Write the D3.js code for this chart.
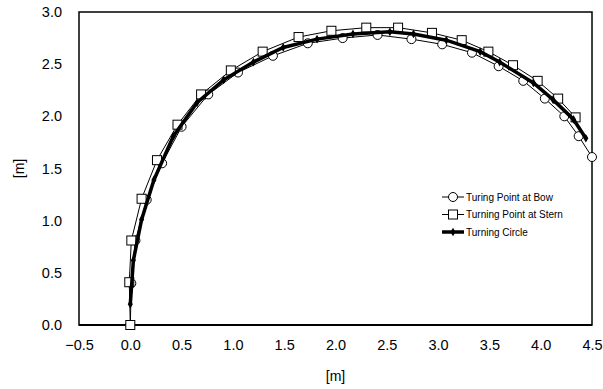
<!DOCTYPE html>
<html>
<head>
<meta charset="utf-8">
<script src="https://cdn.jsdelivr.net/npm/d3@7"></script>
<style>
  body { margin: 0; background: #fff; }
  text { font-family: "Liberation Sans", Arial, sans-serif; fill: #000; }
</style>
</head>
<body>
<script>
// tick values
var xTicks = [-0.5, 0, 0.5, 1, 1.5, 2, 2.5, 3, 3.5, 4, 4.5];
var yTicks = [0, 0.5, 1, 1.5, 2, 2.5, 3];

// series, [x, y] in metres
var bowPoints = [[0.00, 0.00], [0.01, 0.40], [0.05, 0.81], [0.16, 1.20], [0.31, 1.55], [0.50, 1.90],
  [0.76, 2.21], [1.05, 2.42], [1.39, 2.58], [1.73, 2.70], [2.07, 2.75], [2.41, 2.78],
  [2.74, 2.74], [3.04, 2.69], [3.33, 2.61], [3.59, 2.48], [3.83, 2.34], [4.04, 2.17],
  [4.23, 2.00], [4.37, 1.81], [4.50, 1.61]];
var sternPoints = [[0.00, 0.00], [-0.01, 0.41], [0.01, 0.81], [0.11, 1.21], [0.26, 1.58], [0.46, 1.92],
  [0.69, 2.21], [0.98, 2.44], [1.29, 2.62], [1.64, 2.76], [1.96, 2.82], [2.30, 2.85],
  [2.61, 2.85], [2.94, 2.80], [3.23, 2.73], [3.49, 2.62], [3.73, 2.49], [3.97, 2.34],
  [4.17, 2.17], [4.34, 1.99]];
var circlePoints = [[0.00, 0.20], [0.03, 0.62], [0.11, 1.01], [0.23, 1.39], [0.42, 1.81], [0.65, 2.13],
  [0.91, 2.35], [1.20, 2.52], [1.49, 2.66], [1.82, 2.74], [2.17, 2.79], [2.53, 2.81],
  [2.76, 2.79], [3.08, 2.73], [3.41, 2.62], [3.60, 2.52], [3.93, 2.32], [4.12, 2.16],
  [4.32, 1.97], [4.44, 1.79]];
var legendNames = ["Turing Point at Bow", "Turning Point at Stern", "Turning Circle"];

var width = 603, height = 389;
var margin = {top: 12, right: 11, bottom: 64, left: 79};

var svg = d3.select("body").append("svg")
  .attr("width", width)
  .attr("height", height);

var x = d3.scaleLinear().domain([-0.5, 4.5]).range([margin.left, width - margin.right]);
var y = d3.scaleLinear().domain([0, 3]).range([height - margin.bottom, margin.top]);

/* Axes - labels only, no tick marks */
svg.append("g")
  .attr("transform", "translate(0," + (height - margin.bottom) + ")")
  .call(d3.axisBottom(x).tickValues(xTicks).tickFormat(d3.format(".1f")).tickSize(0).tickPadding(15))
  .call(function(g) { g.select(".domain").remove(); })
  .selectAll("text").style("font-size", "14.5px").attr("font-family", null);

svg.append("g")
  .attr("transform", "translate(" + margin.left + ",0)")
  .call(d3.axisLeft(y).tickValues(yTicks).tickFormat(d3.format(".1f")).tickSize(0).tickPadding(17))
  .call(function(g) { g.select(".domain").remove(); })
  .selectAll("text").style("font-size", "14.5px").attr("font-family", null);

// plot frame
svg.append("rect")
  .attr("x", x(-0.5))
  .attr("y", y(3))
  .attr("width", x(4.5) - x(-0.5))
  .attr("height", y(0) - y(3))
  .style("fill", "none")
  .style("stroke", "#000")
  .style("stroke-width", 1.5);

svg.append("line")
  .attr("x1", x(-0.5)).attr("x2", x(4.5))
  .attr("y1", y(0)).attr("y2", y(0))
  .style("stroke", "#000")
  .style("stroke-width", 2);

// axis titles
svg.append("text")
  .attr("x", (x(-0.5) + x(4.5)) / 2)
  .attr("y", 381)
  .attr("text-anchor", "middle")
  .style("font-size", "14px")
  .text("[m]");

svg.append("text")
  .attr("transform", "translate(24," + ((y(0) + y(3)) / 2) + ") rotate(-90)")
  .attr("text-anchor", "middle")
  .style("font-size", "14px")
  .text("[m]");

var line = d3.line()
  .x(function(d) { return x(d[0]); })
  .y(function(d) { return y(d[1]); });

var diamond = d3.symbol().type(d3.symbolDiamond).size(22);

/* Bow series */
svg.append("path")
  .datum(bowPoints)
  .attr("d", line)
  .style("fill", "none")
  .style("stroke", "#000")
  .style("stroke-width", 1);

svg.selectAll(".bow")
  .data(bowPoints)
  .enter().append("circle")
    .attr("class", "bow")
    .attr("cx", function(d) { return x(d[0]); })
    .attr("cy", function(d) { return y(d[1]); })
    .attr("r", 4.5)
    .style("fill", "#fff")
    .style("stroke", "#000")
    .style("stroke-width", 1);

/* Stern series */
svg.append("path")
  .datum(sternPoints)
  .attr("d", line)
  .style("fill", "none")
  .style("stroke", "#000")
  .style("stroke-width", 1);

svg.selectAll(".stern")
  .data(sternPoints)
  .enter().append("rect")
    .attr("class", "stern")
    .attr("x", function(d) { return x(d[0]) - 4.5; })
    .attr("y", function(d) { return y(d[1]) - 4.5; })
    .attr("width", 9)
    .attr("height", 9)
    .style("fill", "#fff")
    .style("stroke", "#000")
    .style("stroke-width", 1);

/* Turning circle */
svg.append("path")
  .datum(circlePoints)
  .attr("d", line)
  .style("fill", "none")
  .style("stroke", "#000")
  .style("stroke-width", 3.5);

svg.selectAll(".turn")
  .data(circlePoints)
  .enter().append("path")
    .attr("class", "turn")
    .attr("d", diamond)
    .attr("transform", function(d) { return "translate(" + x(d[0]) + "," + y(d[1]) + ")"; })
    .style("fill", "#000");

/* Legend */
var legend = svg.append("g").attr("transform", "translate(442,197)");
var rows = legend.selectAll("g")
  .data(legendNames)
  .enter().append("g")
    .attr("transform", function(d, i) { return "translate(0," + (i * 17.5) + ")"; });

rows.append("line")
  .attr("x1", 0).attr("x2", 22)
  .attr("y1", 0).attr("y2", 0)
  .style("stroke", "#000")
  .style("stroke-width", function(d, i) { return i === 2 ? 3.5 : 1; });

rows.filter(function(d, i) { return i === 0; }).append("circle")
  .attr("cx", 11).attr("cy", 0).attr("r", 4.5)
  .style("fill", "#fff").style("stroke", "#000");

rows.filter(function(d, i) { return i === 1; }).append("rect")
  .attr("x", 6.5).attr("y", -4.5).attr("width", 9).attr("height", 9)
  .style("fill", "#fff").style("stroke", "#000");

rows.filter(function(d, i) { return i === 2; }).append("path")
  .attr("d", diamond)
  .attr("transform", "translate(11,0)")
  .style("fill", "#000");

rows.append("text")
  .attr("x", 24)
  .attr("dy", "0.35em")
  .style("font-size", "10px")
  .text(function(d) { return d; });
</script>
</body>
</html>
